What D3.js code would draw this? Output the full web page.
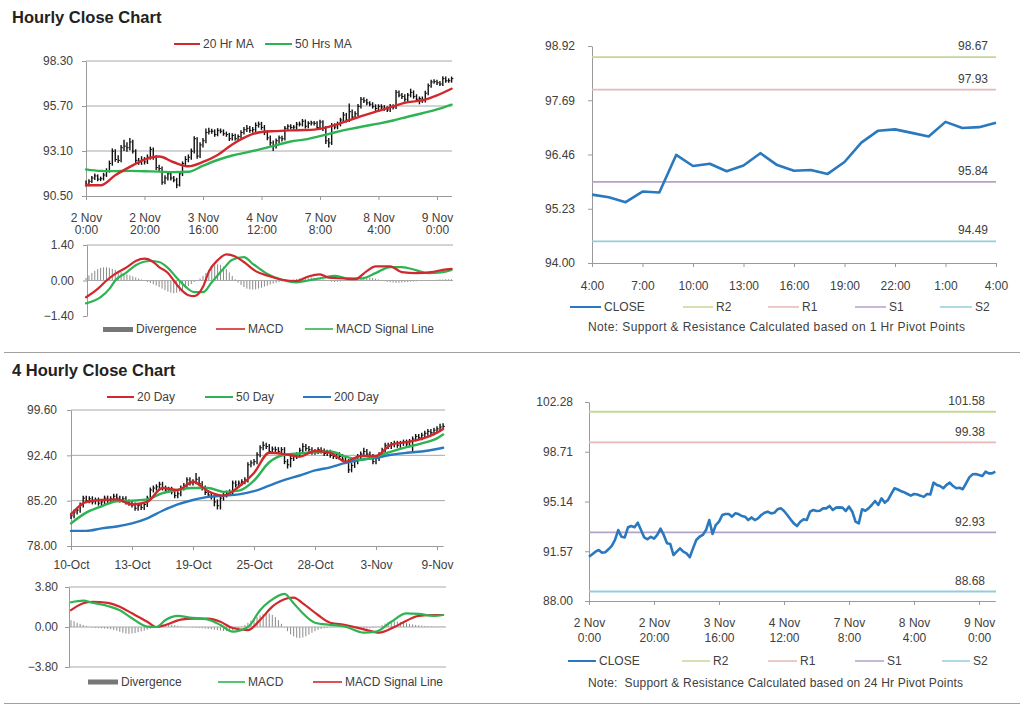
<!DOCTYPE html>
<html><head><meta charset="utf-8">
<script src="https://cdn.jsdelivr.net/npm/d3@7"></script>
<style>
body{margin:0;background:#fff;}
svg text{font-family:"Liberation Sans",Arial,sans-serif;}
</style></head><body>
<svg id="c" width="1024" height="706"></svg>
<script>
// ---------------- DATA ----------------
// Hourly series (2 Nov 0:00 .. 9 Nov ~5:00), 126 bars
const hourClose = [91.18,91.35,91.54,91.66,91.47,91.50,91.71,91.95,92.38,93.09,
92.61,92.56,93.29,93.38,93.29,93.62,93.09,92.56,92.43,92.61,
92.47,92.74,93.19,92.74,92.14,92.09,91.30,91.54,91.78,91.54,
91.42,91.14,91.78,92.38,92.61,92.74,93.09,93.81,92.81,93.45,
93.69,94.17,94.24,94.24,94.05,94.29,94.24,94.10,94.05,93.81,
94.00,93.81,93.93,94.17,94.33,94.41,94.29,94.33,94.58,94.65,
94.46,94.17,93.86,93.57,93.38,93.69,93.86,93.81,94.41,94.53,
94.46,94.48,94.65,94.65,94.82,94.53,94.70,94.72,94.70,94.46,
94.77,94.41,93.69,93.57,94.58,94.48,94.65,94.89,95.18,94.89,
95.37,95.06,95.25,95.68,96.09,96.00,95.88,95.80,95.68,95.56,
95.68,95.64,95.56,95.47,95.68,95.64,96.49,96.33,96.25,96.09,
96.33,96.49,96.25,96.09,96.13,96.02,96.44,96.87,97.09,97.11,
97.04,96.97,97.28,97.16,97.16,97.28];
const hourHigh = [91.40,91.47,91.66,91.80,91.75,91.62,91.84,92.10,92.55,93.25,
93.20,92.85,93.45,93.75,93.60,93.85,93.75,93.20,92.70,92.80,
92.75,92.90,93.35,93.30,92.85,92.30,92.20,91.70,91.90,91.90,
91.65,91.55,91.92,92.50,92.80,92.90,93.25,93.95,93.90,93.60,
93.85,94.40,94.45,94.38,94.35,94.42,94.40,94.35,94.22,94.15,
94.12,94.10,94.05,94.30,94.48,94.60,94.55,94.48,94.75,94.80,
94.78,94.60,94.30,94.00,93.70,93.82,94.00,93.98,94.55,94.65,
94.65,94.60,94.78,94.80,94.95,94.92,94.82,94.85,94.84,94.82,
94.90,94.88,94.55,93.85,94.72,94.70,94.80,95.02,95.35,95.30,
95.85,95.50,95.40,95.82,96.22,96.20,96.12,95.98,95.92,95.80,
95.80,95.80,95.75,95.68,95.82,95.80,96.62,96.60,96.45,96.38,
96.45,96.70,96.60,96.38,96.25,96.25,96.58,97.00,97.22,97.25,
97.22,97.15,97.42,97.40,97.30,97.40];
const hourLow = [91.05,91.06,91.25,91.42,91.35,91.36,91.40,91.60,91.85,92.25,
92.48,92.40,92.45,93.10,93.05,93.15,92.95,92.40,92.30,92.30,
92.32,92.35,92.60,92.60,92.00,91.95,91.15,91.18,91.40,91.40,
91.30,90.95,91.05,91.65,92.25,92.45,92.60,92.95,92.65,92.70,
93.30,93.55,94.05,94.10,93.92,93.95,94.12,93.98,93.92,93.68,
93.70,93.70,93.70,93.82,94.05,94.20,94.15,94.15,94.20,94.45,
94.32,94.02,93.72,93.40,93.10,93.25,93.55,93.65,93.70,94.30,
94.34,94.35,94.36,94.52,94.52,94.40,94.42,94.58,94.58,94.32,
94.35,94.25,93.50,93.30,93.45,94.35,94.36,94.52,94.75,94.75,
94.78,94.92,94.95,95.12,95.55,95.88,95.75,95.68,95.55,95.42,
95.45,95.52,95.42,95.35,95.35,95.50,95.52,96.20,96.10,95.95,
95.98,96.20,96.12,95.95,95.80,95.88,95.90,96.32,96.75,96.98,
96.92,96.85,96.85,97.05,97.04,97.05];
// moving averages, read every 5th hour
const hourMaIdx = [0,5,10,15,20,25,30,35,40,45,50,55,60,65,70,75,80,85,90,95,100,105,110,115,120,125];
const ma20Hr = [91.12,91.12,91.70,92.18,92.60,92.78,92.45,92.22,92.47,92.87,93.48,93.95,94.20,94.25,94.29,94.31,94.38,94.60,94.88,95.16,95.42,95.68,95.92,96.03,96.32,96.70];
const ma50Hr = [92.04,91.95,91.94,91.95,91.93,91.91,91.88,91.90,92.25,92.58,92.84,93.02,93.22,93.44,93.65,93.77,93.96,94.17,94.36,94.53,94.68,94.86,95.08,95.28,95.50,95.78];
const hourTickIdx = [0,20,40,60,80,100,120];
const hourTickDate = ["2 Nov","2 Nov","3 Nov","4 Nov","7 Nov","8 Nov","9 Nov"];
const hourTickTime = ["0:00","20:00","16:00","12:00","8:00","4:00","0:00"];
const hourPriceTicks = [90.50,93.10,95.70,98.30];
// hourly MACD
const macdHIdx = [0,4,7,10,14,17,20,23,25,28,30,32,35,37,40,42,45,48,51,54,58,63,67,72,76,80,83,88,92,96,99,104,108,113,118,122,125];
const macdHVal = [-0.66,-0.33,0.0,0.26,0.53,0.77,0.86,0.73,0.53,0.30,0.0,-0.30,-0.58,-0.62,-0.25,0.35,0.80,1.03,0.95,0.73,0.37,0.16,0.03,-0.02,0.16,0.24,0.11,0.08,0.05,0.37,0.56,0.56,0.33,0.29,0.33,0.42,0.46];
const sigHIdx = [0,5,8,10,14,17,22,25,28,31,34,37,40,43,47,50,54,57,62,67,72,76,81,85,90,94,99,104,108,113,117,122,125];
const sigHVal = [-0.90,-0.66,-0.33,0.0,0.33,0.60,0.77,0.73,0.50,0.11,-0.24,-0.46,-0.46,-0.07,0.46,0.82,0.92,0.66,0.26,0.03,-0.07,0.0,0.11,0.18,0.08,0.08,0.29,0.53,0.53,0.40,0.29,0.33,0.42];
const divH = [0.10,0.20,0.30,0.38,0.45,0.50,0.52,0.52,0.50,0.46,0.42,0.38,0.33,0.28,0.24,0.20,0.16,0.12,0.08,
0.04,-0.02,-0.06,-0.10,-0.15,-0.20,-0.26,-0.32,-0.38,-0.44,-0.48,-0.50,-0.48,-0.44,-0.38,-0.30,-0.22,-0.14,-0.06,-0.01,
0.08,0.18,0.30,0.42,0.52,0.60,0.64,0.62,0.55,0.45,0.32,0.18,
0.05,-0.08,-0.18,-0.26,-0.32,-0.35,-0.36,-0.35,-0.32,-0.28,-0.24,-0.20,-0.16,-0.12,-0.09,-0.06,-0.04,-0.02,
0.00,0.02,0.04,0.06,0.08,0.10,0.11,0.12,0.12,0.11,
0.10,0.08,0.05,0.02,-0.02,-0.05,-0.06,-0.05,-0.04,-0.02,
0.00,0.03,0.06,0.09,0.12,0.14,0.15,0.14,0.12,0.10,
0.07,0.04,0.01,-0.02,-0.05,-0.07,-0.08,-0.09,-0.09,-0.08,
-0.07,-0.06,-0.05,-0.04,-0.03,-0.02,-0.02,-0.01,0.00,0.01,
0.02,0.03,0.04,0.04,0.05,0.05,0.05];
const macdHTicks = [-1.40,0.00,1.40];

// 1 Hr pivot chart (4:00 .. 4:00)
const close1h = [95.55,95.49,95.38,95.62,95.60,96.45,96.20,96.25,96.08,96.21,96.49,96.22,96.09,96.11,96.02,96.29,96.73,97.00,97.03,96.95,96.87,97.20,97.06,97.08,97.18];
const close1hTickIdx = [0,3,6,9,12,15,18,21,24];
const close1hTickLabels = ["4:00","7:00","10:00","13:00","16:00","19:00","22:00","1:00","4:00"];
const close1hTicks = [94.00,95.23,96.46,97.69,98.92];
const pivotNames = ["R2","R1","S1","S2"];
const pivot1h = [98.67,97.93,95.84,94.49];
const pivot24h = [101.58,99.38,92.93,88.68];
const close24hTicks = [88.00,91.57,95.14,98.71,102.28];

// 4 hourly series (10-Oct .. 9-Nov), 123 bars
const close4 = [82.8,83.4,83.7,84.5,85.6,85.2,85.5,85.0,85.3,84.8,
85.0,85.6,85.2,85.5,85.9,85.6,85.3,85.5,85.0,84.8,
84.5,84.0,84.4,84.1,84.6,85.6,86.9,87.2,87.4,87.8,
87.2,86.9,87.0,86.6,86.0,86.3,87.2,87.6,88.5,88.0,
88.2,88.6,87.9,87.2,86.5,86.1,85.8,85.0,84.4,85.6,
86.1,86.4,86.6,88.0,87.7,88.0,88.2,88.5,90.9,91.2,
91.4,92.5,93.6,94.0,93.8,93.0,93.4,93.3,93.0,93.3,
91.4,90.9,91.9,92.2,92.5,93.2,93.8,93.5,93.3,92.9,
93.0,93.3,93.1,92.7,92.9,92.4,92.2,92.5,92.2,91.8,
91.4,90.1,90.8,91.4,92.2,92.6,93.0,92.6,92.2,91.4,
91.9,92.5,93.2,94.0,93.8,94.1,94.3,94.0,94.3,94.5,
94.2,94.6,95.0,95.4,95.2,95.6,95.9,96.2,96.0,96.4,
96.6,96.9,97.0];
const high4 = [83.3,83.8,84.1,84.9,86.0,86.0,85.9,85.9,85.7,85.7,
85.4,86.0,86.0,85.9,86.3,86.3,86.0,85.9,85.9,85.4,
85.2,84.9,84.8,84.8,85.0,86.0,87.3,87.6,87.8,88.2,
88.2,87.6,87.4,87.4,87.0,86.7,87.6,88.0,88.9,88.9,
88.6,89.6,89.0,88.3,87.6,86.9,86.5,86.2,85.4,86.0,
86.5,86.8,87.0,88.4,88.4,88.4,88.6,88.9,91.3,91.6,
91.8,92.9,94.0,94.6,94.4,94.2,93.8,93.8,93.7,93.7,
93.7,91.8,92.3,92.6,92.9,93.6,94.3,94.2,93.9,93.7,
93.4,93.7,93.7,93.5,93.3,93.3,92.8,92.9,92.9,92.6,
92.2,91.8,91.2,91.8,92.6,93.0,93.6,93.4,93.0,92.6,
92.3,92.9,93.6,94.4,94.4,94.5,94.7,94.7,94.7,94.9,
94.9,95.0,95.4,95.8,95.8,96.0,96.3,96.6,96.6,96.8,
97.0,97.4,97.5];
const low4 = [82.3,82.4,83.0,83.3,84.1,84.8,84.8,84.6,84.6,84.4,
84.4,84.6,84.8,84.8,85.1,85.2,84.9,84.9,84.6,84.4,
84.1,83.6,83.6,83.7,83.7,84.2,85.2,86.5,86.8,87.0,
86.8,86.5,86.5,86.2,85.6,85.6,85.9,86.8,87.2,87.6,
87.6,87.8,87.5,86.8,86.1,85.7,85.4,84.3,83.8,83.8,
85.2,85.7,86.0,86.2,87.3,87.3,87.6,87.8,88.1,90.5,
90.8,91.0,92.1,93.2,93.4,92.6,92.6,92.9,92.6,92.6,
91.0,90.3,90.5,91.5,91.8,92.1,92.8,93.1,92.9,92.5,
92.5,92.6,92.7,92.3,92.3,92.0,91.8,91.8,91.8,91.4,
91.0,89.6,89.7,90.4,91.0,91.8,92.2,92.2,91.8,91.0,
91.0,91.5,92.1,92.8,93.4,93.4,93.7,93.6,93.6,93.9,
93.8,93.8,93.0,94.6,94.8,94.8,95.2,95.5,95.6,95.6,
96.0,96.2,96.5];
const ma4Idx = [0,5,10,15,20,25,30,35,40,45,50,55,60,65,70,75,80,85,90,95,100,105,110,115,120,122];
const ma20Day = [83.0,85.0,85.3,85.4,84.6,85.0,87.2,86.9,88.2,86.7,86.0,87.4,89.6,92.8,92.6,92.2,93.1,92.8,91.4,92.3,92.3,94.1,94.5,95.0,96.0,96.6];
const ma50Day = [81.6,83.3,84.3,85.1,85.2,85.4,86.4,86.9,87.2,87.2,86.6,86.8,88.4,91.3,92.5,92.7,92.9,93.0,92.2,91.7,92.2,93.0,93.7,94.3,95.1,95.7];
const ma200Day = [80.4,80.4,80.8,81.1,81.6,82.4,83.6,84.6,85.3,85.8,86.0,86.2,86.7,87.6,88.5,89.2,90.0,90.5,91.2,91.7,92.0,92.5,92.8,93.0,93.4,93.6];
const tick4Idx = [0,20,40,60,80,100,120];
const tick4Labels = ["10-Oct","13-Oct","19-Oct","25-Oct","28-Oct","3-Nov","9-Nov"];
const price4Ticks = [78.00,85.20,92.40,99.60];
// 4 hourly MACD
const macd4Idx = [0,4,7,12,16,20,25,28,31,35,39,45,49,53,58,62,65,70,73,76,80,85,90,96,100,105,110,114,119,122];
const macd4Val = [2.35,2.5,2.3,2.0,1.6,0.83,0.03,0.0,0.67,1.05,0.9,0.7,0.19,-0.44,0.0,1.6,2.4,3.14,2.25,1.3,0.41,0.2,0.03,-0.54,-0.44,0.5,1.3,1.24,1.05,1.14];
const sig4Idx = [0,4,7,12,16,20,25,28,31,36,40,45,49,53,58,62,66,71,73,76,81,85,90,96,101,106,110,114,119,122];
const sig4Val = [1.6,2.25,2.4,2.3,1.93,1.3,0.5,0.0,0.19,0.7,0.8,0.8,0.5,-0.1,-0.3,0.67,1.93,2.73,2.8,2.25,1.14,0.41,0.19,-0.22,-0.54,0.0,0.6,1.05,1.14,1.14];
const div4 = [0.65,0.55,0.40,0.30,0.20,
0.10,0.02,-0.05,-0.08,-0.10,
-0.12,-0.15,-0.18,-0.22,-0.28,-0.35,-0.45,-0.55,-0.62,-0.65,
-0.62,-0.58,-0.50,-0.42,-0.35,-0.25,-0.15,-0.05,0.05,0.12,
0.18,0.22,0.24,0.22,0.18,0.12,0.06,0.02,-0.02,-0.03,
-0.05,-0.08,-0.10,-0.12,-0.15,-0.18,-0.22,-0.26,-0.30,-0.34,
-0.38,-0.40,-0.38,-0.32,-0.22,-0.10,0.05,0.20,0.40,0.60,
0.80,0.95,1.10,1.22,1.30,1.28,1.15,0.95,0.65,0.30,
-0.05,-0.40,-0.70,-0.90,-1.02,-1.05,-1.00,-0.88,-0.72,-0.55,
-0.40,-0.28,-0.18,-0.12,-0.08,-0.05,-0.03,0.00,0.02,0.02,
0.00,-0.03,-0.06,-0.10,-0.12,-0.14,-0.15,-0.14,-0.12,-0.08,
-0.05,0.05,0.18,0.32,0.45,0.52,0.55,0.52,0.48,0.42,
0.36,0.30,0.25,0.20,0.16,0.13,0.10,0.08,0.07,0.06,
0.05,0.05,0.05];
const macd4Ticks = [-3.80,0.00,3.80];

// ---------------- STYLE ----------------
const FONT = '"Liberation Sans", Arial, sans-serif';
const TXT = "#404040", GRID = "#a8a8a8", AXIS = "#9a9a9a";
const RED = "#d0282c", GREEN = "#2eb352", BLUE = "#2a78bd";
const PIV = ["#c3d69b","#e6b9b8","#b3a2c7","#93cddd"];
const svg = d3.select("#c");
const fmt2 = d3.format(".2f");

function text(x, y, s, o = {}) {
  return svg.append("text").attr("x", x).attr("y", y).text(s)
    .attr("font-size", o.size || 12).attr("fill", o.fill || TXT)
    .attr("text-anchor", o.anchor || "start").attr("font-weight", o.weight || "normal")
    .style("white-space", "pre");
}
function hline(x1, x2, y, c, w) {
  svg.append("line").attr("x1", x1).attr("x2", x2).attr("y1", y).attr("y2", y)
    .attr("stroke", c).attr("stroke-width", w || 1);
}
function styleAxis(g) {
  g.attr("font-family", FONT).attr("font-size", 12);
  g.selectAll("text").attr("fill", TXT);
  g.selectAll(".tick line").attr("stroke", AXIS);
  g.select(".domain").attr("stroke", AXIS);
}
function yAxis(y, x0, ticks, pad) {
  const g = svg.append("g").attr("transform", `translate(${x0},0)`)
    .call(d3.axisLeft(y).tickValues(ticks).tickFormat(fmt2).tickSize(4).tickSizeOuter(0).tickPadding(pad));
  styleAxis(g);
  return g;
}
function xAxis(x, y0, ticks, lines1, lines2, pad, dy2) {
  const g = svg.append("g").attr("transform", `translate(0,${y0})`)
    .call(d3.axisBottom(x).tickValues(ticks).tickSize(4).tickSizeOuter(0).tickPadding(pad));
  styleAxis(g);
  g.selectAll(".tick").each(function (d, i) {
    const t = d3.select(this).select("text");
    t.text(null);
    t.append("tspan").attr("x", 0).text(lines1[i]);
    if (lines2) t.append("tspan").attr("x", 0).attr("dy", dy2).text(lines2[i]);
  });
  return g;
}
function legendLine(x1, x2, y, c, w, label) {
  hline(x1, x2, y, c, w);
  text(x2 + 3, y + 4, label);
}
function idxLine(x, y, idx, vals, color, w) {
  svg.append("path").datum(vals)
    .attr("d", d3.line().x((d, i) => x(idx[i])).y(d => y(d)).curve(d3.curveMonotoneX))
    .attr("fill", "none").attr("stroke", color).attr("stroke-width", w)
    .attr("stroke-linejoin", "round").attr("stroke-linecap", "round");
}
function bars(x, y, hi, lo, cl) {
  const g = svg.append("g");
  g.selectAll("line.r").data(cl).join("line")
    .attr("x1", (d, i) => x(i)).attr("x2", (d, i) => x(i))
    .attr("y1", (d, i) => y(hi[i])).attr("y2", (d, i) => y(lo[i]))
    .attr("stroke", "#111").attr("stroke-width", 1.4);
  g.selectAll("line.c").data(cl).join("line")
    .attr("x1", (d, i) => x(i)).attr("x2", (d, i) => x(i) + 1.8)
    .attr("y1", d => y(d)).attr("y2", d => y(d))
    .attr("stroke", "#111").attr("stroke-width", 1);
}
function histo(x, y, vals) {
  svg.append("g").selectAll("line").data(vals).join("line")
    .attr("x1", (d, i) => x(i)).attr("x2", (d, i) => x(i))
    .attr("y1", y(0)).attr("y2", d => y(d))
    .attr("stroke", "#8a8a8a").attr("stroke-width", 1);
}

// ---------------- TITLES & SEPARATORS ----------------
text(12, 23, "Hourly Close Chart", { size: 16.5, weight: "bold", fill: "#222" });
text(12, 375.5, "4 Hourly Close Chart", { size: 16.5, weight: "bold", fill: "#222" });
hline(4, 1020, 352.5, "#a0a0a0", 1.2);
hline(4, 1020, 703.5, "#a0a0a0", 1.2);

// ---------------- PANEL 1: hourly bars ----------------
{
  const x = d3.scaleLinear().domain([0, 125]).range([86, 451.6]);
  const y = d3.scaleLinear().domain([90.5, 98.3]).range([196, 61]);
  hourPriceTicks.slice(1).forEach(v => hline(86, 452, y(v), GRID, 1));
  yAxis(y, 86, hourPriceTicks, 9);
  xAxis(x, 196, hourTickIdx, hourTickDate, hourTickTime, 13, "1.05em");
  bars(x, y, hourHigh, hourLow, hourClose);
  idxLine(x, y, hourMaIdx, ma50Hr, GREEN, 2.4);
  idxLine(x, y, hourMaIdx, ma20Hr, RED, 2.4);
  legendLine(174, 200, 44, RED, 2, "20 Hr MA");
  legendLine(265, 292, 44, GREEN, 2, "50 Hrs MA");

  // MACD
  const ym = d3.scaleLinear().domain([-1.4, 1.4]).range([316, 245]);
  hline(87, 453, ym(1.4), GRID, 1);
  histo(x, ym, divH);
  hline(87, 453, ym(0), GRID, 1);
  yAxis(ym, 87, macdHTicks, 9);
  idxLine(x, ym, sigHIdx, sigHVal, GREEN, 2.2);
  idxLine(x, ym, macdHIdx, macdHVal, RED, 2.2);
  svg.append("rect").attr("x", 103).attr("y", 327).attr("width", 30).attr("height", 5).attr("fill", "#777");
  text(136, 333, "Divergence");
  legendLine(216, 245, 329, RED, 1.6, "MACD");
  legendLine(305, 333, 329, GREEN, 1.6, "MACD Signal Line");
}

// ---------------- PANEL 2: 1 Hr pivot ----------------
{
  const x = d3.scaleLinear().domain([0, 24]).range([592, 996]);
  const y = d3.scaleLinear().domain([94.0, 98.92]).range([263, 46]);
  yAxis(y, 592, close1hTicks, 13);
  xAxis(x, 263, close1hTickIdx, close1hTickLabels, null, 14, null);
  pivot1h.forEach((v, i) => {
    hline(592, 996, y(v), PIV[i], 1.8);
    text(988, y(v) - 7, fmt2(v), { anchor: "end" });
  });
  svg.append("path").datum(close1h)
    .attr("d", d3.line().x((d, i) => x(i)).y(d => y(d)))
    .attr("fill", "none").attr("stroke", BLUE).attr("stroke-width", 2.6).attr("stroke-linejoin", "round");
  const ly = 307;
  legendLine(570, 601, ly, BLUE, 2, "CLOSE");
  const lx = [[683, 713], [768, 799], [855, 886], [940, 972]];
  pivotNames.forEach((n, i) => legendLine(lx[i][0], lx[i][1], ly, PIV[i], 1.5, n));
  text(588, 331, "Note: Support & Resistance Calculated based on 1 Hr Pivot Points").attr("textLength", 377).attr("lengthAdjust", "spacing");
}

// ---------------- PANEL 3: 4 hourly bars ----------------
{
  const x = d3.scaleLinear().domain([0, 122]).range([71, 443.1]);
  const y = d3.scaleLinear().domain([78, 99.6]).range([546, 410]);
  price4Ticks.slice(1).forEach(v => hline(71, 445, y(v), GRID, 1));
  yAxis(y, 71, price4Ticks, 10);
  xAxis(x, 546, tick4Idx, tick4Labels, null, 10, null);
  bars(x, y, high4, low4, close4);
  idxLine(x, y, ma4Idx, ma200Day, BLUE, 2.4);
  idxLine(x, y, ma4Idx, ma50Day, GREEN, 2.4);
  idxLine(x, y, ma4Idx, ma20Day, RED, 2.4);
  legendLine(107, 134, 397, RED, 2, "20 Day");
  legendLine(205, 233, 397, GREEN, 2, "50 Day");
  legendLine(303, 331, 397, BLUE, 2, "200 Day");

  const ym = d3.scaleLinear().domain([-3.8, 3.8]).range([667, 587]);
  hline(69, 446, ym(3.8), GRID, 1);
  hline(69, 446, ym(-3.8), GRID, 1);
  histo(x, ym, div4);
  hline(69, 446, ym(0), GRID, 1);
  yAxis(ym, 69, macd4Ticks, 7);
  idxLine(x, ym, sig4Idx, sig4Val, RED, 2.2);
  idxLine(x, ym, macd4Idx, macd4Val, GREEN, 2.2);
  svg.append("rect").attr("x", 88).attr("y", 679.5).attr("width", 30).attr("height", 5).attr("fill", "#777");
  text(121, 686, "Divergence");
  legendLine(218, 245, 682, GREEN, 1.6, "MACD");
  legendLine(313, 342, 682, RED, 1.6, "MACD Signal Line");
}

// ---------------- PANEL 4: 24 Hr pivot ----------------
{
  const x = d3.scaleLinear().domain([0, 125]).range([589, 995.3]);
  const y = d3.scaleLinear().domain([88.0, 102.28]).range([601, 402]);
  yAxis(y, 589, close24hTicks, 12);
  xAxis(x, 601, hourTickIdx, hourTickDate, hourTickTime, 13, "1.25em");
  pivot24h.forEach((v, i) => {
    hline(589, 996, y(v), PIV[i], 1.8);
    text(985, y(v) - 6.5, fmt2(v), { anchor: "end" });
  });
  svg.append("path").datum(hourClose)
    .attr("d", d3.line().x((d, i) => x(i)).y(d => y(d)))
    .attr("fill", "none").attr("stroke", BLUE).attr("stroke-width", 2.6).attr("stroke-linejoin", "round");
  const ly = 661;
  legendLine(568, 596, ly, BLUE, 2, "CLOSE");
  const lx = [[682, 710], [768, 797], [855, 884], [942, 970]];
  pivotNames.forEach((n, i) => legendLine(lx[i][0], lx[i][1], ly, PIV[i], 1.5, n));
  text(588, 687, "Note:  Support & Resistance Calculated based on 24 Hr Pivot Points").attr("textLength", 375).attr("lengthAdjust", "spacing");
}
</script>
</body></html>
